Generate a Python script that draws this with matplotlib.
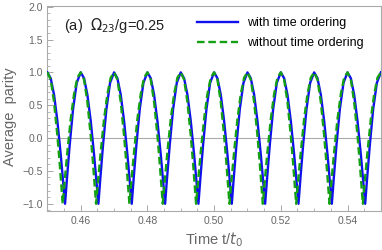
import matplotlib
matplotlib.use('Agg')
import matplotlib.pyplot as plt
from matplotlib.ticker import MultipleLocator

# peaks sit at 0.45 + 0.01k; points read along each period
blue_t = [
    0.4500, 0.4510, 0.4520, 0.4530, 0.4540, 0.4548, 0.4553, 0.4559, 0.4567, 0.4577, 0.4588,
    0.4600, 0.4610, 0.4620, 0.4630, 0.4640, 0.4648, 0.4653, 0.4659, 0.4667, 0.4677, 0.4688,
    0.4700, 0.4710, 0.4720, 0.4730, 0.4740, 0.4748, 0.4753, 0.4759, 0.4767, 0.4777, 0.4788,
    0.4800, 0.4810, 0.4820, 0.4830, 0.4840, 0.4848, 0.4853, 0.4859, 0.4867, 0.4877, 0.4888,
    0.4900, 0.4910, 0.4920, 0.4930, 0.4940, 0.4948, 0.4953, 0.4959, 0.4967, 0.4977, 0.4988,
    0.5000, 0.5010, 0.5020, 0.5030, 0.5040, 0.5048, 0.5053, 0.5059, 0.5067, 0.5077, 0.5088,
    0.5100, 0.5110, 0.5120, 0.5130, 0.5140, 0.5148, 0.5153, 0.5159, 0.5167, 0.5177, 0.5188,
    0.5200, 0.5210, 0.5220, 0.5230, 0.5240, 0.5248, 0.5253, 0.5259, 0.5267, 0.5277, 0.5288,
    0.5300, 0.5310, 0.5320, 0.5330, 0.5340, 0.5348, 0.5353, 0.5359, 0.5367, 0.5377, 0.5388,
    0.5400, 0.5410, 0.5420, 0.5430, 0.5440, 0.5448, 0.5453, 0.5459, 0.5467, 0.5477, 0.5488,
    0.5500,
]
blue_y = [
    1.00, 0.91, 0.66, 0.26, -0.25, -0.71, -1.00, -0.60, -0.10, 0.44, 0.84,
    1.00, 0.91, 0.66, 0.26, -0.25, -0.71, -1.00, -0.60, -0.10, 0.44, 0.84,
    1.00, 0.91, 0.66, 0.26, -0.25, -0.71, -1.00, -0.60, -0.10, 0.44, 0.84,
    1.00, 0.91, 0.66, 0.26, -0.25, -0.71, -1.00, -0.60, -0.10, 0.44, 0.84,
    1.00, 0.91, 0.66, 0.26, -0.25, -0.71, -1.00, -0.60, -0.10, 0.44, 0.84,
    1.00, 0.91, 0.66, 0.26, -0.25, -0.71, -1.00, -0.60, -0.10, 0.44, 0.84,
    1.00, 0.91, 0.66, 0.26, -0.25, -0.71, -1.00, -0.60, -0.10, 0.44, 0.84,
    1.00, 0.91, 0.66, 0.26, -0.25, -0.71, -1.00, -0.60, -0.10, 0.44, 0.84,
    1.00, 0.91, 0.66, 0.26, -0.25, -0.71, -1.00, -0.60, -0.10, 0.44, 0.84,
    1.00, 0.91, 0.66, 0.26, -0.25, -0.71, -1.00, -0.60, -0.10, 0.44, 0.84,
    1.00,
]

green_t = [
    0.4500, 0.4510, 0.4520, 0.4530, 0.4537, 0.4542, 0.4546, 0.4552, 0.4560, 0.4570, 0.4580, 0.4590,
    0.4600, 0.4610, 0.4620, 0.4630, 0.4637, 0.4642, 0.4646, 0.4652, 0.4660, 0.4670, 0.4680, 0.4690,
    0.4700, 0.4710, 0.4720, 0.4730, 0.4737, 0.4742, 0.4746, 0.4752, 0.4760, 0.4770, 0.4780, 0.4790,
    0.4800, 0.4810, 0.4820, 0.4830, 0.4837, 0.4842, 0.4846, 0.4852, 0.4860, 0.4870, 0.4880, 0.4890,
    0.4900, 0.4910, 0.4920, 0.4930, 0.4937, 0.4942, 0.4946, 0.4952, 0.4960, 0.4970, 0.4980, 0.4990,
    0.5000, 0.5010, 0.5020, 0.5030, 0.5037, 0.5042, 0.5046, 0.5052, 0.5060, 0.5070, 0.5080, 0.5090,
    0.5100, 0.5110, 0.5120, 0.5130, 0.5137, 0.5142, 0.5146, 0.5152, 0.5160, 0.5170, 0.5180, 0.5190,
    0.5200, 0.5210, 0.5220, 0.5230, 0.5237, 0.5242, 0.5246, 0.5252, 0.5260, 0.5270, 0.5280, 0.5290,
    0.5300, 0.5310, 0.5320, 0.5330, 0.5337, 0.5342, 0.5346, 0.5352, 0.5360, 0.5370, 0.5380, 0.5390,
    0.5400, 0.5410, 0.5420, 0.5430, 0.5437, 0.5442, 0.5446, 0.5452, 0.5460, 0.5470, 0.5480, 0.5490,
    0.5500,
]
green_y = [
    1.00, 0.89, 0.55, 0.04, -0.39, -0.73, -1.00, -0.65, -0.21, 0.29, 0.67, 0.92,
    1.00, 0.89, 0.55, 0.04, -0.39, -0.73, -1.00, -0.65, -0.21, 0.29, 0.67, 0.92,
    1.00, 0.89, 0.55, 0.04, -0.39, -0.73, -1.00, -0.65, -0.21, 0.29, 0.67, 0.92,
    1.00, 0.89, 0.55, 0.04, -0.39, -0.73, -1.00, -0.65, -0.21, 0.29, 0.67, 0.92,
    1.00, 0.89, 0.55, 0.04, -0.39, -0.73, -1.00, -0.65, -0.21, 0.29, 0.67, 0.92,
    1.00, 0.89, 0.55, 0.04, -0.39, -0.73, -1.00, -0.65, -0.21, 0.29, 0.67, 0.92,
    1.00, 0.89, 0.55, 0.04, -0.39, -0.73, -1.00, -0.65, -0.21, 0.29, 0.67, 0.92,
    1.00, 0.89, 0.55, 0.04, -0.39, -0.73, -1.00, -0.65, -0.21, 0.29, 0.67, 0.92,
    1.00, 0.89, 0.55, 0.04, -0.39, -0.73, -1.00, -0.65, -0.21, 0.29, 0.67, 0.92,
    1.00, 0.89, 0.55, 0.04, -0.39, -0.73, -1.00, -0.65, -0.21, 0.29, 0.67, 0.92,
    1.00,
]

x_ticks = [0.46, 0.48, 0.50, 0.52, 0.54]
y_ticks = [-1.0, -0.5, 0.0, 0.5, 1.0, 1.5, 2.0]

plt.rcParams['font.family'] = ['Liberation Sans', 'DejaVu Sans']
grey = '#666666'

fig = plt.figure(figsize=(3.82, 2.5), dpi=100)
ax = fig.add_axes([0.124, 0.156, 0.873, 0.82])

ax.axhline(0, color='#aaaaaa', lw=0.8, zorder=1)
ax.plot(blue_t, blue_y, color='#1010ee', lw=1.7, label='with time ordering', zorder=3)
ax.plot(green_t, green_y, color='#13a013', lw=1.7, ls=(0, (3.2, 1.6)),
        label='without time ordering', zorder=4)

ax.set_xlim(0.45, 0.55)
ax.set_ylim(-1.11, 2.01)
ax.set_xticks(x_ticks)
ax.set_xticklabels([f'{v:.2f}' for v in x_ticks])
ax.set_yticks(y_ticks)
ax.set_yticklabels([f'{v:.1f}'.replace('-', '\u2212') for v in y_ticks])
ax.xaxis.set_minor_locator(MultipleLocator(0.005))
ax.yaxis.set_minor_locator(MultipleLocator(0.1))
ax.tick_params(which='both', direction='in', colors='#999999', labelcolor=grey,
               labelsize=7.5, top=False, right=False)
ax.tick_params(which='major', length=4, width=0.6)
ax.tick_params(which='minor', length=2, width=0.5)
for s in ax.spines.values():
    s.set_color('#aaaaaa')
    s.set_linewidth(0.8)

ax.set_ylabel('Average  parity', color=grey, fontsize=10.5)
ax.yaxis.set_label_coords(-0.09, 0.46)
ax.set_xlabel('Time t/$t_0$', color=grey, fontsize=10.5)
ax.xaxis.set_label_coords(0.5, -0.095)

ax.text(0.05, 0.905, '(a)  $\\Omega_{23}$/g=0.25', transform=ax.transAxes,
        fontsize=10.5, color='#222222', va='center')

ax.legend(loc='upper left', bbox_to_anchor=(0.448, 0.945), frameon=False, fontsize=9,
          handlelength=3.3, handletextpad=0.7, labelspacing=0.62,
          borderaxespad=0.0, borderpad=0.0)

fig.savefig('out.png', dpi=100)
